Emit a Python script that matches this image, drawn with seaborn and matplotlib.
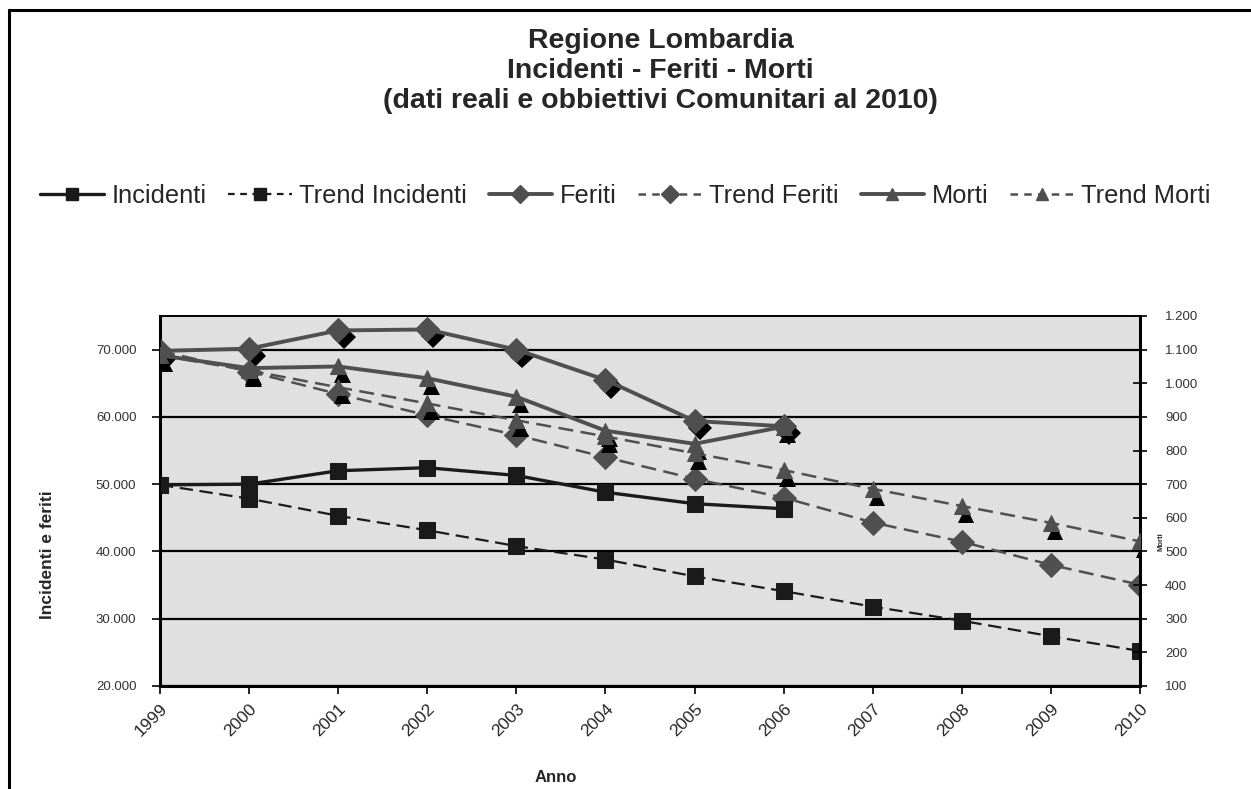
import matplotlib
matplotlib.use("Agg")
import matplotlib.pyplot as plt
import matplotlib.patheffects as pe
from matplotlib.lines import Line2D
from matplotlib.ticker import FuncFormatter, MultipleLocator
import pandas as pd
import seaborn as sns

# data
years = list(range(1999, 2011))
years_real = list(range(1999, 2007))
incidenti = [49900, 50000, 52000, 52450, 51300, 48800, 47100, 46350]
trend_incidenti = [49900, 47850, 45300, 43150, 40800, 38800, 36300, 34100,
                   31800, 29700, 27400, 25200]
feriti = [69800, 70150, 72850, 73000, 70000, 65500, 59400, 58600]
trend_feriti = [69800, 66750, 63400, 60250, 57300, 54000, 50800, 48000,
                44300, 41450, 38000, 35050]
morti = [1083, 1045, 1050, 1015, 960, 859, 820, 871]
trend_morti = [1083, 1038, 988, 940, 890, 842, 792, 742, 686, 635, 585, 530]

sns.set_theme(style="white")
plt.rcParams['font.family'] = ['Liberation Sans', 'DejaVu Sans']

BLACK = '#1a1a1a'
GREY = '#4f4f4f'

fig = plt.figure(figsize=(12.51, 7.89), dpi=100)
ax = fig.add_axes([160 / 1251, 103 / 789, 980 / 1251, 370 / 789])
ax.set_facecolor('#e0e0e0')
ax2 = ax.twinx()
ax2.set_facecolor('none')

real = pd.DataFrame({'anno': years_real, 'incidenti': incidenti,
                     'feriti': feriti, 'morti': morti})
trend = pd.DataFrame({'anno': years, 'incidenti': trend_incidenti,
                      'feriti': trend_feriti, 'morti': trend_morti})

# black "shadow" markers like in the original excel export
sns.lineplot(data=real, x='anno', y='feriti', ax=ax, marker='D', markersize=12,
             linestyle='', color='black', zorder=2)
ax.lines[-1].set_path_effects(
    [pe.SimplePatchShadow(offset=(4, -5), shadow_rgbFace='black', alpha=1.0)])
for df in (real, trend):
    sns.lineplot(data=df, x='anno', y='morti', ax=ax2, marker='^', markersize=12,
                 linestyle='', color='black', zorder=2)
    ax2.lines[-1].set_path_effects(
        [pe.SimplePatchShadow(offset=(3, -6), shadow_rgbFace='black', alpha=1.0)])

dash = (6, 3)
sns.lineplot(data=trend, x='anno', y='incidenti', ax=ax, color=BLACK, lw=1.6,
             marker='s', markersize=12, markeredgecolor=BLACK,
             label='Trend Incidenti', zorder=3)
ax.lines[-1].set_dashes(dash)
sns.lineplot(data=real, x='anno', y='incidenti', ax=ax, color=BLACK, lw=2.4,
             marker='s', markersize=12, markeredgecolor=BLACK,
             label='Incidenti', zorder=4)
sns.lineplot(data=trend, x='anno', y='feriti', ax=ax, color=GREY, lw=1.8,
             marker='D', markersize=12, markeredgecolor=GREY,
             label='Trend Feriti', zorder=3)
ax.lines[-1].set_dashes(dash)
sns.lineplot(data=real, x='anno', y='feriti', ax=ax, color=GREY, lw=2.8,
             marker='D', markersize=12, markeredgecolor=GREY,
             label='Feriti', zorder=4)
sns.lineplot(data=trend, x='anno', y='morti', ax=ax2, color=GREY, lw=1.8,
             marker='^', markersize=12, markeredgecolor=GREY,
             label='Trend Morti', zorder=3)
ax2.lines[-1].set_dashes(dash)
sns.lineplot(data=real, x='anno', y='morti', ax=ax2, color=GREY, lw=2.8,
             marker='^', markersize=12, markeredgecolor=GREY,
             label='Morti', zorder=4)

for a in (ax, ax2):
    if a.get_legend() is not None:
        a.get_legend().remove()

ax.set_xlim(1999, 2010)
ax.set_ylim(20000, 75000)
ax2.set_ylim(100, 1200)
ax.set_xticks(years)
ax.set_xticklabels([str(y) for y in years], rotation=45, ha='right',
                   rotation_mode='anchor', fontsize=12.5)
ax.yaxis.set_major_locator(MultipleLocator(10000))
ax2.yaxis.set_major_locator(MultipleLocator(100))
thousands = FuncFormatter(lambda v, p: f"{v:,.0f}".replace(',', '.'))
ax.yaxis.set_major_formatter(thousands)
ax2.yaxis.set_major_formatter(thousands)
ax.grid(axis='y', color='black', lw=1.6)
ax.grid(axis='x', visible=False)
ax2.grid(False)
ax.set_xlabel('')
ax.set_ylabel('')
ax2.set_ylabel('')

ax.tick_params(axis='x', direction='out', length=6, width=1.2, color='black',
               pad=5, bottom=True)
ax.tick_params(axis='y', direction='out', length=6, width=1.2, color='black',
               labelsize=9.5, labelcolor='#333333', left=True, pad=11)
ax2.tick_params(axis='y', direction='inout', length=10, width=1.2, color='black',
                labelsize=9.5, labelcolor='#333333', right=True, pad=13)

for a in (ax, ax2):
    for side, sp in a.spines.items():
        sp.set_visible(True)
        sp.set_color('black')
        sp.set_linewidth(1.2)
ax.spines['left'].set_linewidth(2.2)
ax.spines['bottom'].set_linewidth(2.2)
ax2.spines['right'].set_linewidth(2.2)

# legend in the order of the original
h1 = {l.get_label(): l for l in ax.lines + ax2.lines}
order = ['Incidenti', 'Trend Incidenti', 'Feriti', 'Trend Feriti', 'Morti', 'Trend Morti']
handles = []
for name in order:
    src = h1[name]
    handles.append(Line2D([], [], color=src.get_color(), lw=src.get_linewidth(),
                          linestyle=src.get_linestyle(), marker=src.get_marker(),
                          markersize=9, markeredgecolor=src.get_color()))
    if 'Trend' in name:
        handles[-1].set_dashes((3, 2.5))
fig.legend(handles, order, loc='center', bbox_to_anchor=(0.5, 1 - 196 / 789),
           ncol=6, frameon=False, fontsize=18.3, handlelength=2.5,
           columnspacing=0.85, handletextpad=0.3)

fig.text(0.528, 1 - 28 / 789,
         'Regione Lombardia\nIncidenti - Feriti - Morti\n(dati reali e obbiettivi Comunitari al 2010)',
         ha='center', va='top', fontsize=20.5, fontweight='bold', linespacing=1.19)
fig.text(48 / 1251, 1 - 555 / 789, 'Incidenti e feriti', rotation=90,
         ha='center', va='center', fontsize=12.5, fontweight='bold')
fig.text(556 / 1251, 1 - 777 / 789, 'Anno', ha='center', va='center',
         fontsize=12, fontweight='bold')
fig.text(1161 / 1251, 1 - 542 / 789, 'Morti', rotation=90, ha='center',
         va='center', fontsize=5.5, fontweight='bold')

# outer chart frame (left and top edges visible)
fig.add_artist(Line2D([9 / 1251, 9 / 1251], [0, 1 - 10 / 789], color='black',
                      lw=2.2, transform=fig.transFigure))
fig.add_artist(Line2D([9 / 1251, 1], [1 - 10 / 789, 1 - 10 / 789], color='black',
                      lw=2.2, transform=fig.transFigure))

fig.savefig('out.png', dpi=100, facecolor='white')
